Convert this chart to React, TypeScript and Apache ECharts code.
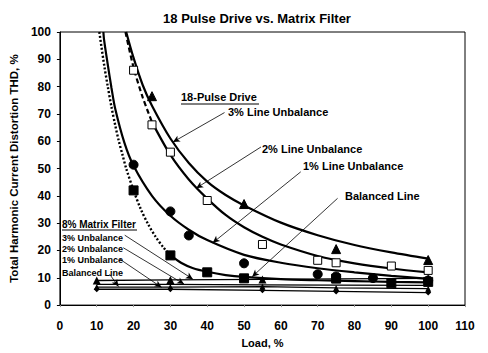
import React, { useEffect, useRef } from "react";
import * as echarts from "echarts";

// ---- Data ----
const xTicks = [0, 10, 20, 30, 40, 50, 60, 70, 80, 90, 100, 110];
const yTicks = [0, 10, 20, 30, 40, 50, 60, 70, 80, 90, 100];

// 18-pulse drive trend curves
const curve3pct = [[18, 100], [20, 90.5], [22.5, 80.5], [25, 73], [30, 61], [35, 52], [40, 45.2], [45, 40.3], [50, 36.5], [60, 30.2], [70, 25.6], [80, 22], [90, 19.3], [100, 17]];
const curve2pctDashed = [[17.8, 100], [20, 87], [22.5, 76], [25, 67]];
const curve2pct = [[25, 67], [30, 55], [35, 46], [40, 39], [45, 33], [50, 28.5], [55, 25], [60, 22.2], [70, 18], [80, 15.3], [90, 13.4], [100, 12]];
const curve1pct = [[11.8, 100], [12, 97], [13, 88], [14, 79.5], [15, 72], [17.5, 59.5], [20, 51], [25, 40], [30, 32.7], [35, 27.6], [40, 23.8], [50, 18.4], [60, 15.5], [70, 13.5], [80, 12], [90, 10.7], [100, 9.6]];
const curveBalDotted = [[10.7, 100], [12, 88], [13, 80], [14, 72.5], [15, 66], [16, 60], [17, 55], [18, 50], [20, 42], [22, 35], [24, 29.5], [26, 25], [28, 21.3], [30, 18.3]];
const curveBal = [[30, 18.3], [33, 15.4], [36, 13.6], [40, 12.2], [45, 11], [50, 10.3], [60, 9.5], [70, 9.1], [80, 8.8], [90, 8.5], [100, 8.3]];

// 18-pulse drive measured points
const pts3pct = [[25, 76.5], [50, 37], [75, 20.5], [100, 16.5]];
const pts2pct = [[20, 86], [25, 66], [30, 56], [40, 38.3], [55, 22.2], [70, 16.4], [75, 15.5], [90, 14.3], [100, 12.7]];
const pts1pct = [[20, 51.4], [30, 34.3], [35, 25.5], [50, 15.3], [70, 11.3], [75, 10.5], [85, 9.9], [100, 9]];
const ptsBal = [[20, 42], [30, 18.2], [40, 12], [50, 9.8], [75, 9.7], [90, 8], [100, 8.5]];

// 8% matrix filter
const matrixLoads = [10, 30, 55, 75, 100];
const matrix3pct = [9.0, 9.2, 9.4, 9.6, 9.8];
const matrix2pct = [7.6, 7.6, 7.4, 7.3, 7.2];
const matrix1pct = [6.6, 6.6, 6.8, 6.3, 6.0];
const matrixBal = [5.8, 5.8, 5.4, 5.0, 4.6];

// annotation arrows [from, to] in data coordinates
const arrows = [
  [[44.7, 70.5], [30.7, 59.7]],
  [[54.6, 57.9], [37.0, 42.8]],
  [[65.4, 48.8], [41.5, 22.8]],
  [[75.4, 39.1], [52.2, 10.4]],
  [[17.6, 25.6], [36.1, 9.5]],
  [[17.2, 21.0], [33.7, 7.7]],
  [[16.3, 16.8], [27.6, 6.5]],
  [[13.5, 11.3], [15.9, 6.8]],
];

const FONT = "Liberation Sans, Arial, sans-serif";

const zip = (xs: number[], ys: number[]) => xs.map((x, i) => [x, ys[i]]);

export default function App() {
  const ref = useRef<HTMLDivElement>(null);
  useEffect(() => {
    if (!ref.current) return;
    const chart = echarts.init(ref.current, null, { renderer: "svg" });
    const curve = (data: number[][], type: any = "solid", width = 2.2) => ({
      type: "line",
      data,
      smooth: 0.3,
      showSymbol: false,
      silent: true,
      lineStyle: { color: "#000", width, type },
      z: 2,
    });
    const scatter = (data: number[][], symbol: string, size: number, fill = "#000") => ({
      type: "scatter",
      data,
      symbol,
      symbolSize: size,
      itemStyle: { color: fill, borderColor: "#000", borderWidth: 1, opacity: 1 },
      z: 4,
    });
    const matrixLine = (ys: number[], symbol: string, size: number) => ({
      type: "line",
      data: zip(matrixLoads, ys),
      symbol,
      symbolSize: size,
      showSymbol: true,
      itemStyle: { color: "#000" },
      lineStyle: { color: "#000", width: 1.3 },
      z: 3,
    });
    const txt = (x: number, y: number, text: string, size: number) => ({
      type: "text",
      x,
      y,
      style: { text, fill: "#000", font: `bold ${size}px ${FONT}`, textVerticalAlign: "middle" },
    });
    const option: any = {
      animation: false,
      backgroundColor: "#fff",
      title: {
        text: "18 Pulse Drive vs. Matrix Filter",
        left: 252,
        textAlign: "center",
        top: 7,
        textStyle: { fontFamily: FONT, fontWeight: "bold", fontSize: 13, color: "#000" },
      },
      grid: {
        left: 58,
        right: 23,
        top: 32,
        bottom: 45,
        show: true,
        borderColor: "#000",
        borderWidth: 1,
        backgroundColor: "#fff",
      },
      xAxis: {
        type: "value",
        min: xTicks[0],
        max: xTicks[xTicks.length - 1],
        interval: 10,
        name: "Load, %",
        nameLocation: "middle",
        nameGap: 31,
        nameTextStyle: { fontFamily: FONT, fontWeight: "bold", fontSize: 11, color: "#000" },
        axisLine: { show: true, lineStyle: { color: "#000", width: 1 } },
        axisTick: { show: true, length: 2, lineStyle: { color: "#999" } },
        splitLine: { show: false },
        axisLabel: { fontFamily: FONT, fontWeight: "bold", fontSize: 12, color: "#000", margin: 15 },
      },
      yAxis: {
        type: "value",
        min: yTicks[0],
        max: yTicks[yTicks.length - 1],
        interval: 10,
        name: "Total Harmonic Current Distortion THD, %",
        nameLocation: "middle",
        nameGap: 36,
        nameTextStyle: { fontFamily: FONT, fontWeight: "bold", fontSize: 11.5, color: "#000" },
        axisLine: { show: true, lineStyle: { color: "#000", width: 1 } },
        axisTick: { show: true, length: 3, lineStyle: { color: "#000" } },
        splitLine: { show: false },
        axisLabel: { fontFamily: FONT, fontWeight: "bold", fontSize: 12, color: "#000", margin: 9 },
      },
      series: [
        curve(curve3pct),
        curve(curve2pctDashed, [5, 3], 2.2),
        curve(curve2pct),
        curve(curve1pct),
        curve(curveBalDotted, [2, 2], 2.4),
        curve(curveBal),
        scatter(pts3pct, "triangle", 9),
        scatter(pts2pct, "rect", 8, "#fff"),
        scatter(pts1pct, "circle", 9),
        scatter(ptsBal, "rect", 9),
        matrixLine(matrix3pct, "triangle", 8),
        matrixLine(matrix2pct, "none", 0),
        matrixLine(matrix1pct, "triangle", 6),
        matrixLine(matrixBal, "diamond", 6),
        {
          type: "line",
          data: [],
          silent: true,
          markLine: {
            silent: true,
            symbol: ["none", "arrow"],
            symbolSize: [5, 7],
            label: { show: false },
            lineStyle: { color: "#000", width: 0.8, type: "solid" },
            data: arrows.map(([a, b]) => [{ coord: a }, { coord: b }]),
          },
        },
      ],
      graphic: [
        txt(181, 97, "18-Pulse Drive", 11),
        { type: "line", shape: { x1: 181, y1: 104, x2: 259, y2: 104 }, style: { stroke: "#000", lineWidth: 1 } },
        txt(228, 112, "3% Line Unbalance", 11),
        txt(262, 149, "2% Line Unbalance", 11),
        txt(303, 166, "1% Line Unbalance", 11),
        txt(345, 196, "Balanced Line", 11),
        txt(62, 224, "8% Matrix Filter", 10),
        { type: "line", shape: { x1: 62, y1: 230, x2: 137, y2: 230 }, style: { stroke: "#000", lineWidth: 1 } },
        txt(62, 238, "3% Unbalance", 9),
        txt(62, 249, "2% Unbalance", 9),
        txt(62, 260, "1% Unbalance", 9),
        txt(62, 273, "Balanced Line", 9),
      ],
    };
    chart.setOption(option);
    return () => chart.dispose();
  }, []);
  return (
    <div
      ref={ref}
      style={{ position: "absolute", left: 0, top: 0, width: 488, height: 353, background: "#fff" }}
    />
  );
}
